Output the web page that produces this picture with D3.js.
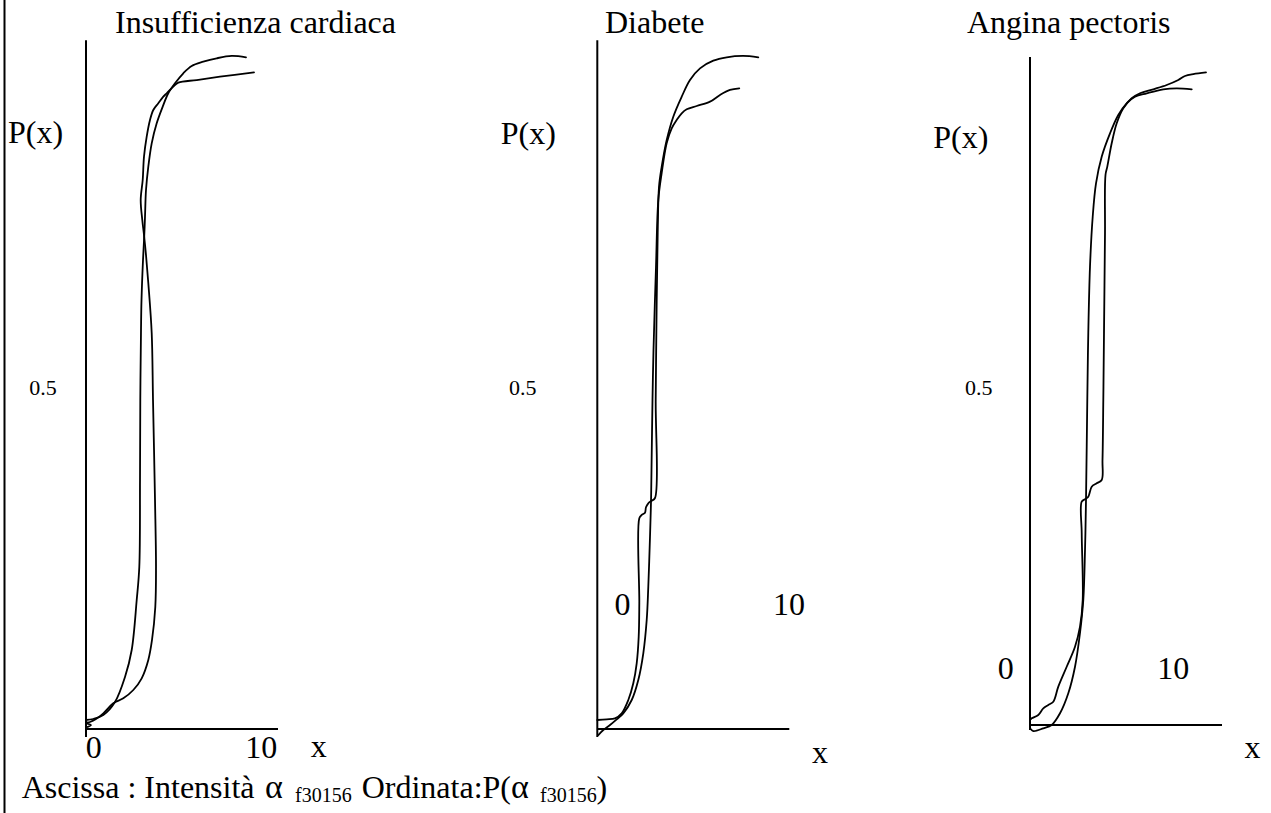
<!DOCTYPE html>
<html>
<head>
<meta charset="utf-8">
<script src="https://cdn.jsdelivr.net/npm/d3@7"></script>
<style>
  html, body { margin: 0; padding: 0; background: #fff; }
  svg { display: block; }
  text { font-family: "Liberation Serif", "Times New Roman", serif; fill: #000; }
</style>
</head>
<body>
<svg id="chart" width="1271" height="813"></svg>
<script>
// ---------------- DATA ----------------
const panelTitles = ["Insufficienza cardiaca", "Diabete", "Angina pectoris"];
const xTickLabels = ["0", "10"];
const yTickLabel = "0.5";
const axisLabelY = "P(x)";
const axisLabelX = "x";
const xDomain = [0, 10];
const yDomain = [0, 1];
// y-axis extent per panel (in P units)
const yAxisTop = [1.019, 1.019, 0.988];
const yAxisBottom = [-0.012, -0.012, -0.0074];

// Insufficienza cardiaca: curve rising first (smooth, highest end)
const cardiacaA = [
  [0.000,0.0133],[0.380,0.0148],[0.901,0.0207],[1.510,0.0399],[2.031,0.0769],[2.380,0.1169],
  [2.641,0.1908],[2.776,0.2396],[2.813,0.3683],[2.828,0.4867],[2.865,0.5902],[2.891,0.6346],
  [2.969,0.6938],[3.036,0.7308],[3.073,0.7578],[3.125,0.7973],[3.245,0.8318],[3.422,0.8664],
  [3.682,0.8960],[3.995,0.9206],[4.286,0.9404],[4.635,0.9552],[5.068,0.9700],[5.505,0.9808],
  [6.109,0.9871],[6.807,0.9922],[7.589,0.9956],[8.333,0.9936]
];
// Insufficienza cardiaca: curve with the ledge
const cardiacaB = [
  [0.000,0.0022],[0.260,0.0059],[0.000,0.0089],[0.208,0.0104],[0.521,0.0148],[0.901,0.0232],
  [1.422,0.0380],[1.943,0.0454],[2.464,0.0577],[2.901,0.0750],[3.245,0.1021],[3.438,0.1317],
  [3.609,0.1805],[3.646,0.2396],[3.594,0.3388],[3.490,0.4867],[3.422,0.5858],[3.245,0.6598],
  [3.125,0.7012],[3.021,0.7308],[2.932,0.7530],[2.849,0.7825],[2.953,0.8121],[3.021,0.8466],
  [3.161,0.8762],[3.333,0.9009],[3.505,0.9157],[3.766,0.9256],[4.026,0.9354],[4.203,0.9404],
  [4.547,0.9502],[4.807,0.9561],[5.766,0.9600],[6.979,0.9649],[8.750,0.9714]
];
// Diabete: smooth top curve (with step in the lower part)
const diabeteA = [
  [0.000,0.0133],[0.490,0.0143],[0.922,0.0158],[1.271,0.0232],[1.615,0.0429],[1.875,0.0676],
  [2.052,0.0972],[2.156,0.1365],[2.188,0.1864],[2.188,0.3117],[2.313,0.3166],[2.484,0.3200],
  [2.536,0.3280],[2.656,0.3339],[2.833,0.3377],[3.005,0.3417],[3.042,0.4867],[3.094,0.6346],
  [3.146,0.7337],[3.214,0.8022],[3.354,0.8318],[3.615,0.8713],[3.958,0.9058],[4.396,0.9354],
  [4.828,0.9601],[5.349,0.9773],[6.042,0.9886],[6.740,0.9936],[7.589,0.9956],[8.385,0.9936]
];
// Diabete: wavy top curve
const diabeteB = [
  [0.052,-0.0089],[0.313,-0.0015],[0.661,0.0059],[1.010,0.0143],[1.354,0.0232],[1.792,0.0429],
  [2.135,0.0725],[2.396,0.1120],[2.573,0.1612],[2.656,0.2105],[2.745,0.2845],[2.797,0.3362],
  [2.823,0.3831],[2.875,0.4867],[2.927,0.5607],[3.057,0.6834],[3.177,0.7825],[3.354,0.8225],
  [3.615,0.8669],[3.875,0.8886],[4.135,0.9009],[4.396,0.9108],[4.656,0.9167],[5.177,0.9216],
  [5.870,0.9280],[6.391,0.9379],[6.911,0.9453],[7.396,0.9478]
];
// Angina pectoris: curve with step (higher end)
const anginaA = [
  [0.000,0.0074],[0.089,0.0099],[0.432,0.0148],[0.693,0.0247],[0.953,0.0296],[1.214,0.0345],
  [1.474,0.0567],[1.911,0.0862],[2.344,0.1158],[2.604,0.1454],[2.745,0.1849],[2.693,0.2840],
  [2.693,0.3303],[2.865,0.3339],[3.036,0.3377],[3.214,0.3525],[3.474,0.3575],[3.734,0.3624],
  [3.776,0.3920],[3.818,0.4808],[3.854,0.5799],[3.906,0.7278],[3.932,0.8136],[4.026,0.8259],
  [4.255,0.8605],[4.516,0.8901],[4.859,0.9123],[5.297,0.9271],[5.729,0.9345],[6.422,0.9404],
  [7.120,0.9467],[7.724,0.9541],[8.073,0.9601],[8.505,0.9630],[9.167,0.9655]
];
// Angina pectoris: smooth curve
const anginaB = [
  [0.000,-0.0049],[0.172,-0.0089],[0.693,-0.0049],[1.130,0.0000],[1.563,0.0173],[1.995,0.0469],
  [2.344,0.0862],[2.604,0.1361],[2.776,0.1849],[2.865,0.2589],[2.917,0.3328],[2.984,0.4808],
  [3.036,0.5799],[3.125,0.6780],[3.266,0.7519],[3.438,0.8013],[3.734,0.8407],[4.167,0.8753],
  [4.599,0.9024],[5.036,0.9197],[5.469,0.9294],[6.078,0.9345],[6.943,0.9404],[7.641,0.9419],
  [8.422,0.9404]
];
const panelSeries = [[cardiacaA, cardiacaB], [diabeteA, diabeteB], [anginaA, anginaB]];

const footerMain1 = "Ascissa : Intensità";
const footerAlpha = "α";
const footerSub = "f30156";
const footerMain2 = "Ordinata:P(";
const footerClose = ")";

// ---------------- LAYOUT ----------------
const layout = [
  { x0: 86,    y0: 729, titleX: 115, pX: 8,     pY: 143, halfX: 29.3, zeroX: 93.8,   zeroY: 758, tenX: 261.3,  tenY: 758, xlX: 318.8,  xlY: 757 },
  { x0: 597.3, y0: 729, titleX: 605, pX: 500.7, pY: 144, halfX: 509,  zeroX: 622.5,  zeroY: 615, tenX: 789,    tenY: 615, xlX: 820,    xlY: 763 },
  { x0: 1030,  y0: 725, titleX: 967, pX: 933.3, pY: 148, halfX: 965,  zeroX: 1005.8, zeroY: 679, tenX: 1173.3, tenY: 679, xlX: 1252.5, xlY: 758 }
];
const xWidth = 192, yHeight = 676;
const bigFont = 32, smallFont = 22, subFont = 20;

const svg = d3.select("#chart");

// left border line
svg.append("line").attr("x1", 4.5).attr("x2", 4.5).attr("y1", 0).attr("y2", 813)
  .attr("stroke", "#000").attr("stroke-width", 2);

layout.forEach((L, i) => {
  const x = d3.scaleLinear().domain(xDomain).range([L.x0, L.x0 + xWidth]);
  const y = d3.scaleLinear().domain(yDomain).range([L.y0, L.y0 - yHeight]);
  const g = svg.append("g");

  // axes
  g.append("line")
    .attr("x1", x(0)).attr("x2", x(0))
    .attr("y1", y(yAxisTop[i])).attr("y2", y(yAxisBottom[i]))
    .attr("stroke", "#000").attr("stroke-width", 2);
  g.append("line")
    .attr("x1", x(xDomain[0])).attr("x2", x(xDomain[1]))
    .attr("y1", y(0)).attr("y2", y(0))
    .attr("stroke", "#000").attr("stroke-width", 2);

  // curves
  const line = d3.line().x(d => x(d[0])).y(d => y(d[1])).curve(d3.curveCatmullRom.alpha(0.5));
  panelSeries[i].forEach(s => {
    g.append("path").attr("d", line(s))
      .attr("fill", "none").attr("stroke", "#000").attr("stroke-width", 1.8)
      .attr("stroke-linejoin", "round").attr("stroke-linecap", "round");
  });

  // texts
  g.append("text").attr("x", L.titleX).attr("y", 33).attr("font-size", bigFont).text(panelTitles[i]);
  g.append("text").attr("x", L.pX).attr("y", L.pY).attr("font-size", bigFont).text(axisLabelY);
  g.append("text").attr("x", L.halfX).attr("y", 395).attr("font-size", smallFont).text(yTickLabel);
  g.append("text").attr("x", L.zeroX).attr("y", L.zeroY).attr("font-size", bigFont)
    .attr("text-anchor", "middle").text(xTickLabels[0]);
  g.append("text").attr("x", L.tenX).attr("y", L.tenY).attr("font-size", bigFont)
    .attr("text-anchor", "middle").text(xTickLabels[1]);
  g.append("text").attr("x", L.xlX).attr("y", L.xlY).attr("font-size", bigFont)
    .attr("text-anchor", "middle").text(axisLabelX);
});

// footer
const fy = 798, fsy = 801.7;
svg.append("text").attr("x", 21.7).attr("y", fy).attr("font-size", bigFont).text(footerMain1);
svg.append("text").attr("x", 265).attr("y", fy).attr("font-size", 34).text(footerAlpha);
svg.append("text").attr("x", 295).attr("y", fsy).attr("font-size", subFont).text(footerSub);
svg.append("text").attr("x", 361.7).attr("y", fy).attr("font-size", bigFont).text(footerMain2);
svg.append("text").attr("x", 511).attr("y", fy).attr("font-size", 34).text(footerAlpha);
svg.append("text").attr("x", 540).attr("y", fsy).attr("font-size", subFont).text(footerSub);
svg.append("text").attr("x", 596.5).attr("y", fy).attr("font-size", bigFont).text(footerClose);
</script>
</body>
</html>
